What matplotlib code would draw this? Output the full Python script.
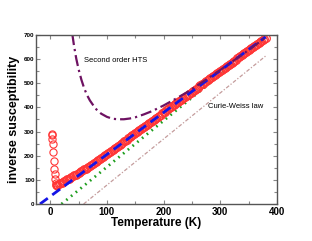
import matplotlib
matplotlib.use('Agg')
import matplotlib.pyplot as plt
import numpy as np
from matplotlib.ticker import MultipleLocator

plt.rcParams['font.family'] = ['Liberation Sans', 'DejaVu Sans']

# measured inverse susceptibility (open circles)
# low temperature upturn
T_low = [3, 3.5, 4, 4.5, 5, 6, 7, 8, 9, 10, 10.5, 11, 12]
chi_low = [290, 285, 270, 250, 215, 180, 146, 124, 102, 86, 80, 77, 76]
# measured every 2.5 K from 12.5 K to 380 K
T_band = np.arange(12.5, 380.1, 2.5)
chi_band = [77, 81, 85, 89, 92, 95, 99, 102, 105, 108, 112, 115, 119, 122, 126,
            129, 133, 136, 140, 143, 147, 150, 154, 158, 161, 165, 169, 173, 177,
            181, 186, 190, 194, 198, 203, 207, 211, 216, 220, 224, 229, 233, 237,
            241, 246, 250, 254, 259, 263, 267, 272, 276, 280, 284, 289, 293, 297,
            302, 306, 310, 315, 319, 323, 327, 332, 336, 340, 345, 349, 353, 358,
            362, 366, 370, 375, 379, 383, 388, 392, 396, 401, 405, 409, 413, 418,
            422, 426, 431, 435, 439, 444, 448, 452, 456, 461, 465, 469, 474, 478,
            482, 487, 491, 495, 499, 504, 508, 512, 517, 521, 525, 530, 534, 538,
            542, 547, 551, 555, 560, 564, 568, 573, 577, 581, 585, 590, 594, 598,
            603, 607, 611, 616, 620, 624, 628, 633, 637, 641, 646, 650, 654, 659,
            663, 667, 671, 676, 680, 684, 689]

# second order high temperature series
T_hts = [39, 42, 46, 50, 55, 60, 65, 70, 80, 90, 100, 110, 120, 130, 140,
         150, 165, 180, 200, 220, 240, 260, 280, 300, 320, 340, 360, 380]
chi_hts = [704, 656, 602, 559, 515, 479, 451, 429, 395, 374, 361, 353, 351,
           351, 354, 359, 371, 385, 408, 434, 461, 492, 523, 555, 588, 621, 655, 690]

# straight lines (end points)
T_blue = [-18, 380]
chi_blue = [0, 692]
T_green = [20, 380]
chi_green = [0, 690]
T_cw = [59, 380]
chi_cw = [0, 613]

fig = plt.figure(figsize=(3.12, 2.41), dpi=100)
ax = fig.add_axes([0.1154, 0.1535, 0.7724, 0.7013])

ax.plot(T_cw, chi_cw, color='#c49c9c', lw=0.9, ls=(0, (3, 1.5, 1, 1.5)))
ax.plot(T_green, chi_green, color='#1e9e1e', lw=2.0, ls=(0, (0.6, 1.6)))
ax.plot(T_low, chi_low, 'o', mfc='none', mec='#ff3535', ms=5.2, mew=0.8)
ax.plot(T_band, chi_band, 'o', mfc='none', mec='#ff3535', ms=5.5, mew=0.9)
ax.plot(T_blue, chi_blue, color='#1414e6', lw=2.0, ls=(0, (3.5, 2)))
ax.plot(T_hts, chi_hts, color='#6e1262', lw=1.6, ls=(0, (5, 1.8, 1, 1.8)))

ax.text(59, 593, 'Second order HTS', fontsize=5.5, va='center')
ax.text(278, 405, 'Curie-Weiss law', fontsize=5.5, va='center')

ax.set_xlim(-25, 400)
ax.set_ylim(0, 700)
ax.xaxis.set_major_locator(MultipleLocator(100))
ax.xaxis.set_minor_locator(MultipleLocator(50))
ax.yaxis.set_major_locator(MultipleLocator(100))
ax.yaxis.set_minor_locator(MultipleLocator(50))
ax.tick_params(which='both', direction='in', top=True, right=True,
               color='#888888', width=0.8)
ax.tick_params(which='major', length=3)
ax.tick_params(which='minor', length=2)
ax.tick_params(axis='x', labelsize=7, pad=2)
ax.tick_params(axis='y', labelsize=4.5, pad=1)
for lab in ax.get_xticklabels() + ax.get_yticklabels():
    lab.set_fontweight('bold')
for s in ax.spines.values():
    s.set_color('#555555')
    s.set_linewidth(1.0)

ax.set_xlabel('Temperature (K)', fontsize=8.5, fontweight='bold', labelpad=0)
ax.set_ylabel('inverse susceptibility', fontsize=9, fontweight='bold', labelpad=3)

fig.savefig('out.png', dpi=100)
